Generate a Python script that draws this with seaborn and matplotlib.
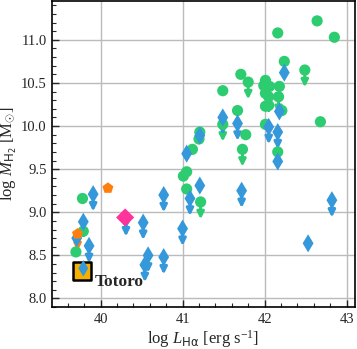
import matplotlib
matplotlib.use("Agg")
import matplotlib.pyplot as plt
import seaborn as sns
import pandas as pd
import numpy as np

# green circles: detections
green_x = [42.64, 42.85, 42.16, 42.24, 41.71, 41.49, 42.01, 42.06, 41.99, 42.18,
           42.01, 42.21, 41.67, 41.77, 42.01, 42.68, 42.16, 41.21, 41.20, 41.12,
           41.05, 41.01, 41.05, 39.78, 39.79, 39.70, 42.01, 42.05]
green_y = [11.22, 11.03, 11.08, 10.75, 10.60, 10.41, 10.53, 10.46, 10.47, 10.46,
           10.23, 10.18, 10.18, 9.90, 10.02, 10.05, 9.70, 9.93, 9.85, 9.73,
           9.47, 9.42, 9.27, 9.16, 8.78, 8.54, 10.38, 10.24]
# green circles: upper limits
green_lim_x = [42.49, 41.80, 42.05, 42.17, 41.49, 41.73, 41.22]
green_lim_y = [10.65, 10.51, 10.34, 10.34, 10.02, 9.73, 9.12]

# blue diamonds: detections
blue_x = [42.24, 42.18, 42.16, 41.21, 41.05, 41.21, 42.53, 39.71]
blue_y = [10.62, 10.17, 9.59, 9.89, 9.68, 9.31, 8.64, 8.70]
# blue diamonds: upper limits
blue_lim_x = [41.49, 41.67, 42.05, 42.16, 41.09, 40.77, 40.52, 41.00, 40.58,
              40.54, 40.77, 41.72, 42.82, 39.91, 40.31, 39.79, 39.86]
blue_lim_y = [10.10, 10.03, 9.99, 9.93, 9.16, 9.20, 8.88, 8.81, 8.50,
              8.39, 8.48, 9.25, 9.14, 9.21, 8.92, 8.89, 8.61]

# orange pentagons
orange_x = [40.09]
orange_y = [9.28]
orange_lim_x = [39.72]
orange_lim_y = [8.75]

# pink diamond
pink_x = [40.30]
pink_y = [8.94]

# Totoro
totoro_x = [39.78]
totoro_y = [8.32]
totoro_lim_x = [39.79]
totoro_lim_y = [8.35]

GREEN = "#2ecc71"
BLUE = "#3498db"
ORANGE = "#ff7f0e"
PINK = "#ff3399"
GOLD = "#f5b000"

sns.set_style("whitegrid")
plt.rcParams.update({
    "font.family": ["Liberation Serif", "DejaVu Serif"],
    "mathtext.fontset": "custom",
    "mathtext.rm": "Liberation Serif",
    "mathtext.it": "Liberation Serif:italic",
    "mathtext.bf": "Liberation Serif:bold",
    "mathtext.sf": "DejaVu Sans",
    "figure.facecolor": "white",
    "axes.facecolor": "white",
    "axes.edgecolor": "black",
    "axes.linewidth": 1.2,
    "grid.color": "#bbbbbb",
    "grid.linewidth": 1.0,
    "xtick.direction": "in",
    "ytick.direction": "in",
    "xtick.bottom": True,
    "ytick.left": True,
})

fig = plt.figure(figsize=(3.57, 3.49), dpi=100, facecolor="white")
ax = fig.add_axes([0.146, 0.120, 0.848, 0.877])
ax.set_facecolor("white")


def arrows(xs, ys, color, length=0.2):
    # downward arrow marking an upper limit
    for x, y in zip(xs, ys):
        ax.annotate("", xy=(x, y - length), xytext=(x, y),
                    arrowprops=dict(arrowstyle="-|>", color=color, lw=2.2,
                                    mutation_scale=10, shrinkA=0, shrinkB=0),
                    zorder=2)


arrows(green_lim_x, green_lim_y, GREEN)
sns.scatterplot(x=green_x + green_lim_x, y=green_y + green_lim_y, color=GREEN,
                marker="o", s=65, edgecolor="none", ax=ax, zorder=3)

arrows(blue_lim_x, blue_lim_y, BLUE)
sns.scatterplot(x=blue_x + blue_lim_x, y=blue_y + blue_lim_y, color=BLUE,
                marker="d", s=85, edgecolor="none", ax=ax, zorder=4)

arrows(orange_lim_x, orange_lim_y, ORANGE)
sns.scatterplot(x=orange_x + orange_lim_x, y=orange_y + orange_lim_y, color=ORANGE,
                marker="p", s=70, edgecolor="none", ax=ax, zorder=5)

sns.scatterplot(x=pink_x, y=pink_y, color=PINK, marker="D", s=85,
                edgecolor="none", ax=ax, zorder=5)

sns.scatterplot(x=totoro_x, y=totoro_y, color=GOLD, marker="s", s=170,
                edgecolor="black", linewidth=1.8, ax=ax, zorder=6)
arrows(totoro_lim_x, totoro_lim_y, BLUE, length=0.1)
sns.scatterplot(x=totoro_lim_x, y=totoro_lim_y, color=BLUE, marker="d", s=70,
                edgecolor="none", ax=ax, zorder=7)
ax.text(totoro_x[0] + 0.15, totoro_y[0] - 0.13, "Totoro", fontsize=12.5,
        fontweight="bold", va="center", ha="left")

ax.set_xlim(39.41, 43.1)
ax.set_ylim(7.91, 11.45)
ax.set_xticks([40, 41, 42, 43])
ax.set_yticks([8.0, 8.5, 9.0, 9.5, 10.0, 10.5, 11.0])
ax.set_yticklabels(["8.0", "8.5", "9.0", "9.5", "10.0", "10.5", "11.0"])
ax.set_xticks(np.arange(39.6, 43.05, 0.2), minor=True)
ax.set_yticks(np.arange(7.9, 11.45, 0.1), minor=True)
ax.tick_params(which="major", length=5, width=1, labelsize=10.5, pad=4)
ax.tick_params(which="minor", length=3, width=0.8)
ax.grid(which="minor", visible=False)

ax.set_xlabel(r"log $L_{\mathsf{H\alpha}}$ [erg s$^{-1}$]", fontsize=12, labelpad=2)
ax.set_ylabel(r"log $M_{\mathsf{H}_\mathsf{2}}$ [M$_{\odot}$]", fontsize=12, labelpad=1)

fig.savefig("out.png", dpi=100, facecolor="white")
